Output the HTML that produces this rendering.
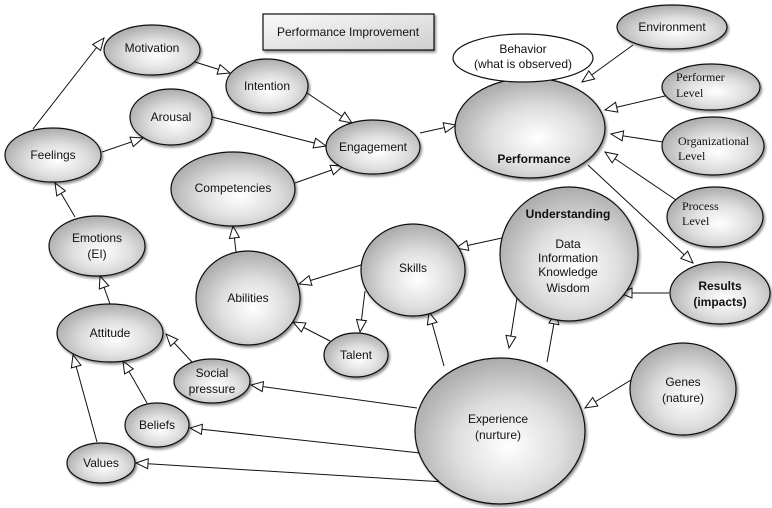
<!DOCTYPE html>
<html><head><meta charset="utf-8"><style>
html,body{margin:0;padding:0;background:#fff;}
svg{display:block;}
text{font-family:"Liberation Sans",sans-serif;font-size:12px;fill:#111;text-anchor:middle;}
.s{font-family:"Liberation Serif",serif;text-anchor:start;}
</style></head><body>
<svg width="772" height="508" viewBox="0 0 772 508" xmlns="http://www.w3.org/2000/svg">
<defs>
<radialGradient id="g" cx="0.55" cy="0.6" r="0.62">
<stop offset="0" stop-color="#ffffff"/><stop offset="0.5" stop-color="#dedede"/><stop offset="1" stop-color="#a8a8a8"/>
</radialGradient>
<linearGradient id="rg" x1="0" y1="0" x2="1" y2="1"><stop offset="0" stop-color="#fafafa"/><stop offset="1" stop-color="#cfcfcf"/></linearGradient>
<marker id="a" markerWidth="14" markerHeight="12" refX="13" refY="6" orient="auto" markerUnits="userSpaceOnUse">
<path d="M1,1 L13,6 L1,11 Z" fill="#fff" stroke="#111" stroke-width="1"/>
</marker>
<filter id="sh" x="-20%" y="-20%" width="150%" height="150%"><feDropShadow dx="1.5" dy="2" stdDeviation="1.2" flood-color="#000" flood-opacity="0.45"/></filter>
</defs>

<g stroke="#111" stroke-width="1" fill="none" marker-end="url(#a)">
<line x1="33" y1="129" x2="104" y2="38"/>
<line x1="195" y1="62" x2="230" y2="73"/>
<line x1="307" y1="93" x2="352" y2="123"/>
<line x1="212" y1="117" x2="326" y2="146"/>
<line x1="102" y1="152" x2="143" y2="138"/>
<line x1="295" y1="183" x2="343" y2="166"/>
<line x1="75" y1="217" x2="55" y2="183"/>
<line x1="420" y1="133" x2="456" y2="125"/>
<line x1="633" y1="45" x2="582" y2="82"/>
<line x1="665" y1="96" x2="605" y2="110"/>
<line x1="663" y1="142" x2="611" y2="134"/>
<line x1="676" y1="200" x2="605" y2="152"/>
<line x1="588" y1="165" x2="693" y2="263"/>
<line x1="502" y1="238" x2="456" y2="248"/>
<line x1="669" y1="293" x2="620" y2="293"/>
<line x1="517" y1="298" x2="509" y2="348"/>
<line x1="547" y1="362" x2="556" y2="312"/>
<line x1="444" y1="366" x2="429" y2="312"/>
<line x1="361" y1="265" x2="299" y2="284"/>
<line x1="365" y1="291" x2="360" y2="332"/>
<line x1="330" y1="341" x2="293" y2="322"/>
<line x1="236" y1="252" x2="233" y2="226"/>
<line x1="110" y1="304" x2="100" y2="276"/>
<line x1="192" y1="362" x2="166" y2="334"/>
<line x1="147" y1="403" x2="123" y2="361"/>
<line x1="97" y1="442" x2="73" y2="355"/>
<line x1="417" y1="408" x2="251" y2="385"/>
<line x1="420" y1="453" x2="190" y2="428"/>
<line x1="445" y1="482" x2="136" y2="463"/>
<line x1="631" y1="380" x2="585" y2="408"/>
</g>

<g fill="url(#g)" stroke="#111" stroke-width="1.2" filter="url(#sh)">
<ellipse cx="152" cy="50" rx="48" ry="25"/>
<ellipse cx="267" cy="86" rx="41" ry="27"/>
<ellipse cx="171" cy="117" rx="41" ry="28"/>
<ellipse cx="53" cy="155" rx="48" ry="27"/>
<ellipse cx="373" cy="147" rx="47" ry="27"/>
<ellipse cx="233" cy="189" rx="62" ry="37"/>
<ellipse cx="97" cy="246" rx="48" ry="30"/>
<ellipse cx="248" cy="298" rx="52" ry="47"/>
<ellipse cx="413" cy="270" rx="52" ry="46"/>
<ellipse cx="356" cy="355" rx="32" ry="22"/>
<ellipse cx="110" cy="333" rx="53" ry="29"/>
<ellipse cx="212" cy="381" rx="38" ry="22"/>
<ellipse cx="157" cy="425" rx="32" ry="22"/>
<ellipse cx="101" cy="463" rx="34" ry="20"/>
<ellipse cx="500" cy="431" rx="85" ry="73"/>
<ellipse cx="683" cy="389" rx="53" ry="46"/>
<ellipse cx="569" cy="254" rx="69" ry="67"/>
<ellipse cx="720" cy="293" rx="50" ry="31"/>
<ellipse cx="530" cy="128" rx="75" ry="50"/>
<ellipse cx="672" cy="27" rx="55" ry="22"/>
<ellipse cx="711" cy="87" rx="49" ry="23"/>
<ellipse cx="713" cy="146" rx="51" ry="29"/>
<ellipse cx="715" cy="217" rx="48" ry="30"/>
<rect x="263" y="14" width="171" height="36" fill="url(#rg)"/>
</g>
<ellipse cx="523" cy="58" rx="70" ry="24" fill="#fff" stroke="#111" stroke-width="1.2"/>

<text x="348" y="36">Performance Improvement</text>
<text x="152" y="52">Motivation</text>
<text x="267" y="90">Intention</text>
<text x="171" y="121">Arousal</text>
<text x="53" y="159">Feelings</text>
<text x="373" y="151">Engagement</text>
<text x="233" y="192">Competencies</text>
<text x="97" y="242">Emotions</text><text x="97" y="258">(EI)</text>
<text x="248" y="302">Abilities</text>
<text x="413" y="272">Skills</text>
<text x="356" y="359">Talent</text>
<text x="110" y="337">Attitude</text>
<text x="212" y="377">Social</text><text x="212" y="393">pressure</text>
<text x="157" y="429">Beliefs</text>
<text x="101" y="467">Values</text>
<text x="498" y="423">Experience</text><text x="498" y="439">(nurture)</text>
<text x="683" y="386">Genes</text><text x="683" y="402">(nature)</text>
<text x="568" y="218" font-weight="bold">Understanding</text>
<text x="568" y="248">Data</text><text x="568" y="262">Information</text><text x="568" y="276">Knowledge</text><text x="568" y="292">Wisdom</text>
<text x="720" y="290" font-weight="bold">Results</text><text x="720" y="306" font-weight="bold">(impacts)</text>
<text x="534" y="163" font-weight="bold">Performance</text>
<text x="523" y="53">Behavior</text><text x="523" y="68">(what is observed)</text>
<text x="672" y="31">Environment</text>
<text class="s" x="676" y="81">Performer</text><text class="s" x="676" y="97">Level</text>
<text class="s" x="678" y="145">Organizational</text><text class="s" x="678" y="160">Level</text>
<text class="s" x="682" y="210">Process</text><text class="s" x="682" y="225">Level</text>
</svg>
</body></html>
